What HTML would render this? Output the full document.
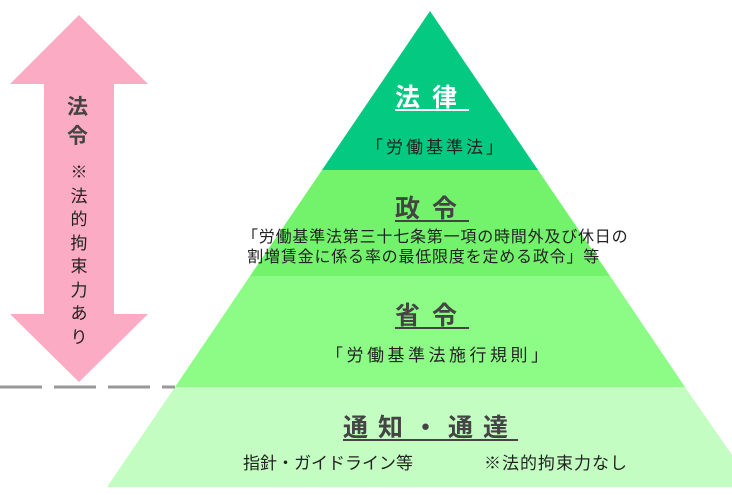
<!DOCTYPE html>
<html><head><meta charset="utf-8"><style>
body{margin:0;width:732px;height:495px;background:#fff;overflow:hidden;position:relative;font-family:"Liberation Sans","Noto Sans CJK JP",sans-serif}
.t{position:absolute;white-space:nowrap;color:#222}
.h{font-weight:bold;font-size:25px;text-decoration:underline;text-underline-offset:3px;color:#444;letter-spacing:12px}
</style></head><body>
<svg width="732" height="495" style="position:absolute;left:0;top:0">
<polygon points="430,11 538,170 322,170" fill="#03C981"/>
<polygon points="322,170 538,170 610,276 250,276" fill="#73F36C"/>
<polygon points="250,276 610,276 685,387 175,387" fill="#8CFC86"/>
<polygon points="175,387 685,387 732,455 732,487 107,487" fill="#C3FDC2"/>
<polygon points="79,15 148,84 114,84 114,314 148,314 79,382 10,314 44,314 44,84 10,84" fill="#FBABC3"/>
<line x1="0" y1="387" x2="175" y2="387" stroke="#999" stroke-width="3" stroke-dasharray="42,12"/>
</svg>
<div class="t h" style="left:395px;top:78px;color:#fff">法律</div>
<div class="t" style="left:366px;top:133px;font-size:17px;letter-spacing:3px">「労働基準法」</div>
<div class="t h" style="left:395px;top:189px">政令</div>
<div class="t" style="left:242px;top:228px;font-size:16px;letter-spacing:0.8px;line-height:20px">「労働基準法第三十七条第一項の時間外及び休日の<br>&nbsp;割増賃金に係る率の最低限度を定める政令」等</div>
<div class="t h" style="left:395px;top:296px">省令</div>
<div class="t" style="left:326px;top:341px;font-size:17px;letter-spacing:3.5px">「労働基準法施行規則」</div>
<div class="t h" style="left:343px;top:408px;letter-spacing:10px">通知・通達</div>
<div class="t" style="left:243px;top:449px;font-size:17px">指針・ガイドライン等</div>
<div class="t" style="left:484px;top:449px;font-size:17px;letter-spacing:1px">※法的拘束力なし</div>
<div class="t" style="left:67px;top:93px;font-size:21px;font-weight:bold;color:#444;line-height:29px;width:24px">法<br>令</div>
<div class="t" style="left:69px;top:161px;font-size:17px;line-height:23.5px;width:20px;text-align:center">※<br>法<br>的<br>拘<br>束<br>力<br>あ<br>り</div>
</body></html>
